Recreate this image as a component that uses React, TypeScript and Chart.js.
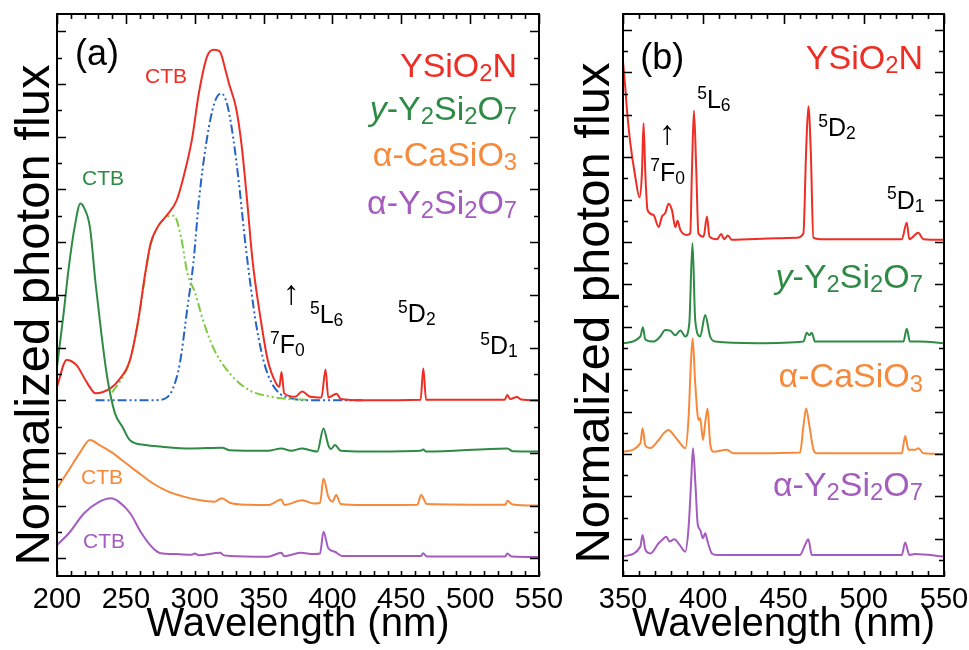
import { useEffect, useRef } from "react";
import { Chart, registerables } from "chart.js";

Chart.register(...registerables);

const FONT = '"Liberation Sans", Arial, Helvetica, sans-serif';

const RED = "#ee2d24";
const GREEN = "#2e8b45";
const ORANGE = "#f7893b";
const PURPLE = "#a45cbf";
const BLUE = "#2563c4";
const LIME = "#7bcb3c";

// ---------- Panel (a): excitation spectra, 200–550 nm (curves offset vertically) ----------
const aRedX = [200, 207, 214, 222, 228, 239, 245, 253, 259, 264, 268, 273, 281, 287, 292, 298, 303, 309, 314, 318, 323, 325, 330, 334, 338, 342, 348, 353, 359, 361.5, 363, 365, 373, 378, 384, 392, 395, 397, 403, 406, 423, 464, 466, 468, 525, 527, 529, 534, 537, 550];
const aRedY = [6.51, 7.53, 7.34, 6.65, 6.26, 6.46, 6.77, 7.53, 9.04, 10.8, 11.96, 12.57, 13.1, 13.6, 14.5, 15.9, 17.65, 19.05, 19.3, 19.25, 18.4, 18.0, 17.1, 15.7, 13.6, 11.3, 9.04, 7.53, 6.65, 6.51, 7.07, 6.26, 6.13, 6.33, 6.13, 6.1, 7.17, 6.1, 6.25, 6.05, 6.0, 6.02, 7.2, 6.02, 6.02, 6.2, 6.05, 6.12, 6.03, 6.0];

// Gaussian components fitted to the YSiO2N band
const aFitBlueX = [228, 250, 270, 278, 283.7, 289.2, 294.8, 299, 303.1, 308.7, 314.3, 319.3, 324, 328.2, 332.4, 336.5, 340.7, 344.9, 350.5, 356, 361.6, 370, 381, 422];
const aFitBlueY = [6.0, 6.0, 6.0, 6.05, 6.39, 7.4, 9.55, 11.2, 13.6, 15.87, 17.28, 17.65, 17.14, 15.87, 14.1, 12.08, 10.3, 8.79, 7.4, 6.64, 6.26, 6.07, 6.0, 6.0];
const aFitLimeX = [240, 248, 253, 259, 264, 268, 273, 278, 285, 290, 294.8, 300.4, 306, 314.3, 325.4, 339.3, 356, 370, 381];
const aFitLimeY = [6.3, 6.9, 7.5, 9.0, 10.7, 11.9, 12.55, 12.9, 13.0, 12.2, 10.8, 10.06, 9.04, 7.9, 7.02, 6.39, 6.13, 6.04, 6.02];

const aGreenX = [200, 204.5, 208.6, 212.8, 217, 219.7, 223.9, 228, 232.2, 236.4, 242, 247.5, 253, 264, 275, 297.6, 320, 325, 353, 363, 370, 378, 384, 389, 393.5, 397, 399, 401.8, 406, 423, 464, 466, 468, 527, 531, 550];
const aGreenY = [7.27, 9.16, 11.06, 12.57, 13.47, 13.3, 12.57, 10.44, 8.54, 6.89, 5.52, 4.99, 4.48, 4.3, 4.24, 4.17, 4.2, 4.1, 4.08, 4.17, 4.08, 4.17, 4.1, 4.05, 4.93, 4.3, 4.15, 4.3, 4.08, 4.05, 4.08, 4.13, 4.05, 4.17, 4.06, 4.05];

const aOrangeX = [200, 208.6, 217, 223.9, 230.9, 239.2, 250.3, 261.4, 269.8, 280.9, 292, 303.1, 314.3, 319.8, 325.4, 339.3, 353.2, 362.9, 365, 378.2, 386.5, 391, 393.5, 397, 400, 402.7, 406, 422.7, 461.6, 464.4, 468.6, 525.5, 527, 531, 550];
const aOrangeY = [2.66, 3.35, 4.04, 4.49, 4.3, 4.04, 3.6, 3.16, 2.84, 2.53, 2.34, 2.21, 2.15, 2.28, 2.11, 2.03, 2.02, 2.23, 2.03, 2.2, 2.08, 2.1, 3.03, 2.34, 2.15, 2.4, 2.06, 2.02, 2.03, 2.4, 2.06, 2.03, 2.18, 2.04, 2.0];

const aPurpleX = [200, 208.6, 219.7, 230.9, 239.2, 244.8, 253.1, 261.4, 269.8, 275.3, 286.5, 297.6, 300, 303, 318.4, 321, 325.4, 353, 362.9, 365, 376.8, 386.5, 391, 393.5, 397, 401.8, 407, 464.4, 465.8, 468.6, 525.5, 527, 530, 550];
const aPurpleY = [0.5, 0.95, 1.71, 2.15, 2.28, 2.15, 1.71, 0.95, 0.38, 0.19, 0.16, 0.13, 0.18, 0.12, 0.21, 0.12, 0.09, 0.06, 0.21, 0.08, 0.21, 0.16, 0.18, 1.01, 0.38, 0.25, 0.09, 0.09, 0.19, 0.07, 0.07, 0.18, 0.07, 0.05];

// ---------- Panel (b): 4f–4f lines, 350–550 nm ----------
const bRedX = [350, 351.4, 352.5, 354.5, 357.6, 360.3, 361.8, 362.8, 363.9, 365.3, 369, 372.2, 374.3, 376.3, 378.4, 380.5, 382.6, 384, 385.7, 389.8, 391.9, 393, 394.2, 395.6, 397, 400.2, 402.3, 403.9, 408.5, 411.2, 413, 415.4, 417.8, 445.9, 458.3, 462.4, 464.1, 465.5, 467, 468.6, 472.8, 523.7, 526.8, 528.4, 534, 537.1, 550];
const bRedY = [23.5, 22.3, 21.2, 19.7, 18.1, 17.1, 18.25, 20.6, 18.25, 16.5, 16.27, 15.7, 16.2, 16.36, 16.8, 16.5, 15.7, 16.0, 15.57, 15.33, 15.4, 18.5, 21.2, 18.5, 15.4, 15.25, 16.2, 15.25, 15.13, 15.37, 15.13, 15.3, 15.1, 15.17, 15.2, 15.4, 19.3, 21.4, 19.3, 15.2, 15.13, 15.13, 15.9, 15.13, 15.43, 15.13, 15.1];

const bGreenX = [350, 360.8, 362.4, 363.9, 369, 373.2, 376.3, 379.4, 382.6, 385.7, 388.8, 391.3, 393.3, 395, 398.1, 401.2, 404.3, 407.4, 433.4, 462.4, 464.5, 466.2, 467.6, 469.7, 524.7, 526.8, 528.8, 535, 550];
const bGreenY = [10.22, 10.54, 10.98, 10.4, 10.3, 10.54, 10.85, 10.82, 10.6, 10.82, 10.54, 11.16, 14.95, 11.3, 10.54, 11.56, 10.54, 10.3, 10.22, 10.3, 10.72, 10.6, 10.72, 10.3, 10.3, 10.9, 10.3, 10.3, 10.22];

const bOrangeX = [350, 360.8, 362.2, 363.9, 367, 372.2, 375.3, 378.4, 381.5, 385.7, 388.8, 390.9, 392.2, 393.4, 395, 397.1, 398.1, 399.8, 401.2, 402.7, 404.3, 406.4, 414.7, 418.8, 460.3, 462.4, 464.1, 466.2, 468.7, 470.8, 523.7, 525.8, 527.9, 532, 534.1, 537.1, 550];
const bOrangeY = [5.11, 5.5, 6.21, 5.4, 5.28, 5.66, 5.97, 6.13, 5.9, 5.5, 5.27, 6.76, 9.12, 10.46, 8.33, 6.6, 6.7, 5.66, 6.45, 7.15, 5.5, 5.11, 5.2, 5.03, 5.07, 6.29, 7.15, 6.29, 5.2, 5.03, 5.03, 5.85, 5.2, 5.2, 5.27, 5.03, 5.0];

const bPurpleX = [350, 360.8, 362.2, 363.9, 367, 372.2, 374.3, 377, 379, 382, 385.3, 388.8, 390.9, 392.4, 393.6, 395.2, 396.5, 398.1, 399.8, 401.2, 402.7, 405.4, 408.5, 460.3, 463.4, 465.5, 467.6, 523.7, 525.8, 528.4, 532, 550];
const bPurpleY = [0.16, 0.63, 1.18, 0.5, 0.31, 0.79, 0.94, 1.1, 0.87, 0.98, 0.71, 0.39, 1.57, 3.62, 5.27, 3.46, 1.73, 1.42, 1.02, 1.26, 0.87, 0.31, 0.24, 0.24, 0.71, 0.98, 0.24, 0.24, 0.82, 0.24, 0.28, 0.16];

// ---------- Text ----------
type Part = { t: string; s?: "sub" | "sup"; i?: boolean };
type Label = { x: number; y: number; parts: Part[]; color: string; size: number; align: "left" | "right" | "center" };

const P = (t: string): Part => ({ t });
const SUB = (t: string): Part => ({ t, s: "sub" });
const SUP = (t: string): Part => ({ t, s: "sup" });

const NAME_YSION: Part[] = [P("YSiO"), SUB("2"), P("N")];
const NAME_Y_YSO: Part[] = [{ t: "y", i: true }, P("-Y"), SUB("2"), P("Si"), SUB("2"), P("O"), SUB("7")];
const NAME_CASIO: Part[] = [P("\u03b1-CaSiO"), SUB("3")];
const NAME_A_YSO: Part[] = [P("\u03b1-Y"), SUB("2"), P("Si"), SUB("2"), P("O"), SUB("7")];
const F0: Part[] = [SUP("7"), P("F"), SUB("0")];
const L6: Part[] = [SUP("5"), P("L"), SUB("6")];
const D2: Part[] = [SUP("5"), P("D"), SUB("2")];
const D1: Part[] = [SUP("5"), P("D"), SUB("1")];

const X_TITLE = "Wavelength (nm)";
const Y_TITLE = "Normalized photon flux";

const aLabels: Label[] = [
  { x: 213.1, y: 19.21, parts: [P("(a)")], color: "#000", size: 36, align: "left" },
  { x: 534.1, y: 18.72, parts: NAME_YSION, color: RED, size: 34, align: "right" },
  { x: 534.1, y: 17.09, parts: NAME_Y_YSO, color: GREEN, size: 34, align: "right" },
  { x: 534.1, y: 15.36, parts: NAME_CASIO, color: ORANGE, size: 34, align: "right" },
  { x: 534.1, y: 13.52, parts: NAME_A_YSO, color: PURPLE, size: 34, align: "right" },
  { x: 279.2, y: 18.34, parts: [P("CTB")], color: RED, size: 21, align: "center" },
  { x: 233.4, y: 14.47, parts: [P("CTB")], color: GREEN, size: 21, align: "center" },
  { x: 232.7, y: 3.09, parts: [P("CTB")], color: ORANGE, size: 21, align: "center" },
  { x: 234.1, y: 0.69, parts: [P("CTB")], color: PURPLE, size: 21, align: "center" },
  { x: 370.1, y: 10.1, parts: [P("\u2191")], color: "#000", size: 34, align: "center" },
  { x: 354.7, y: 8.12, parts: F0, color: "#000", size: 25, align: "left" },
  { x: 383.7, y: 9.26, parts: L6, color: "#000", size: 25, align: "left" },
  { x: 447.7, y: 9.29, parts: D2, color: "#000", size: 25, align: "left" },
  { x: 507.3, y: 8.08, parts: D1, color: "#000", size: 25, align: "left" },
];

const bLabels: Label[] = [
  { x: 360.8, y: 23.78, parts: [P("(b)")], color: "#000", size: 36, align: "left" },
  { x: 536.9, y: 23.73, parts: NAME_YSION, color: RED, size: 34, align: "right" },
  { x: 536.9, y: 13.42, parts: NAME_Y_YSO, color: GREEN, size: 34, align: "right" },
  { x: 536.9, y: 8.71, parts: NAME_CASIO, color: ORANGE, size: 34, align: "right" },
  { x: 536.9, y: 3.58, parts: NAME_A_YSO, color: PURPLE, size: 34, align: "right" },
  { x: 377.6, y: 20.2, parts: [P("\u2191")], color: "#000", size: 34, align: "center" },
  { x: 367, y: 18.3, parts: F0, color: "#000", size: 25, align: "left" },
  { x: 396.2, y: 21.73, parts: L6, color: "#000", size: 25, align: "left" },
  { x: 471.6, y: 20.41, parts: D2, color: "#000", size: 25, align: "left" },
  { x: 514.5, y: 16.98, parts: D1, color: "#000", size: 25, align: "left" },
];

function drawRich(ctx: CanvasRenderingContext2D, x: number, yMid: number, l: Label) {
  const segs = l.parts.map((p) => {
    const sz = p.s ? l.size * 0.7 : l.size;
    const font = `${p.i ? "italic " : ""}${sz}px ${FONT}`;
    ctx.font = font;
    const dy = p.s === "sub" ? l.size * 0.12 : p.s === "sup" ? -l.size * 0.38 : 0;
    return { t: p.t, font, dy, w: ctx.measureText(p.t).width };
  });
  const total = segs.reduce((a, s) => a + s.w, 0);
  let cx = l.align === "right" ? x - total : l.align === "center" ? x - total / 2 : x;
  const base = yMid + l.size * 0.358;
  ctx.fillStyle = l.color;
  ctx.textAlign = "left";
  ctx.textBaseline = "alphabetic";
  for (const s of segs) {
    ctx.font = s.font;
    ctx.fillText(s.t, cx, base + s.dy);
    cx += s.w;
  }
}

type Titles = { xBase: number; xSize: number; yBase: number; yMid: number; ySize: number };
type FrameCfg = {
  xMin: number;
  xMax: number;
  xMinor: number;
  xMajor: number;
  yTicks: number[];
  yLong: (v: number) => boolean;
  labels: Label[];
  titles: Titles;
};

// Closed frame with inward ticks on all four sides, annotations and axis titles
function framePlugin(cfg: FrameCfg) {
  return {
    id: "frameAndText",
    afterDatasetsDraw(chart: any) {
      const { ctx, chartArea: a, scales } = chart;
      const xs = scales.x;
      const ys = scales.y;
      ctx.save();
      ctx.strokeStyle = "#000";
      ctx.lineWidth = 1.6;
      ctx.beginPath();
      for (let v = cfg.xMin; v <= cfg.xMax + 1e-6; v += cfg.xMinor) {
        const px = Math.round(xs.getPixelForValue(v)) + 0.5;
        const major = Math.abs(v % cfg.xMajor) < 1e-6;
        ctx.moveTo(px, a.bottom);
        ctx.lineTo(px, a.bottom - 5);
        ctx.moveTo(px, a.top);
        ctx.lineTo(px, a.top + (major ? 10 : 5));
      }
      for (const v of cfg.yTicks) {
        const py = Math.round(ys.getPixelForValue(v)) + 0.5;
        const len = cfg.yLong(v) ? 9 : 5;
        ctx.moveTo(a.left, py);
        ctx.lineTo(a.left + len, py);
        ctx.moveTo(a.right, py);
        ctx.lineTo(a.right - len, py);
      }
      ctx.stroke();
      ctx.lineWidth = 2;
      ctx.strokeRect(a.left, a.top, a.right - a.left, a.bottom - a.top);
      for (const l of cfg.labels) {
        drawRich(ctx, xs.getPixelForValue(l.x), ys.getPixelForValue(l.y), l);
      }
      const t = cfg.titles;
      ctx.fillStyle = "#000";
      ctx.textAlign = "center";
      ctx.textBaseline = "alphabetic";
      ctx.font = `${t.xSize}px ${FONT}`;
      ctx.fillText(X_TITLE, (a.left + a.right) / 2, t.xBase);
      ctx.translate(t.yBase, t.yMid);
      ctx.rotate(-Math.PI / 2);
      ctx.font = `${t.ySize}px ${FONT}`;
      ctx.fillText(Y_TITLE, 0, 0);
      ctx.restore();
    },
  };
}

const pts = (xs: number[], ys: number[]) => xs.map((x, i) => ({ x, y: ys[i] }));

function line(label: string, xs: number[], ys: number[], color: string, dash?: number[]) {
  return {
    label,
    data: pts(xs, ys),
    borderColor: color,
    backgroundColor: color,
    borderWidth: 2,
    borderDash: dash || [],
    pointRadius: 0,
    fill: false,
    cubicInterpolationMode: "monotone" as const,
  };
}

const DASH_DOT_DOT = [9, 3, 2, 3, 2, 3];

type PanelSpec = {
  width: number;
  left: number;
  axisWidth: number;
  rightPad: number;
  xMin: number;
  xMax: number;
  yMin: number;
  yMax: number;
  yTicks: number[];
  yLong: (v: number) => boolean;
  datasets: any[];
  labels: Label[];
  titles: Titles;
};

function range(a: number, b: number) {
  const r: number[] = [];
  for (let i = a; i <= b; i++) r.push(i);
  return r;
}

const panelA: PanelSpec = {
  width: 620,
  left: 0,
  axisWidth: 57,
  rightPad: 81,
  xMin: 200,
  xMax: 550,
  yMin: -0.672,
  yMax: 20.66,
  yTicks: range(0, 20),
  yLong: (v) => v % 2 === 0,
  datasets: [
    line("α-Y2Si2O7", aPurpleX, aPurpleY, PURPLE),
    line("α-CaSiO3", aOrangeX, aOrangeY, ORANGE),
    line("y-Y2Si2O7", aGreenX, aGreenY, GREEN),
    line("YSiO2N", aRedX, aRedY, RED),
    line("fit 1", aFitLimeX, aFitLimeY, LIME, DASH_DOT_DOT),
    line("fit 2", aFitBlueX, aFitBlueY, BLUE, DASH_DOT_DOT),
  ],
  labels: aLabels,
  titles: { xBase: 636, xSize: 40, yBase: 49, yMid: 315, ySize: 49 },
};

const panelB: PanelSpec = {
  width: 470,
  left: 555,
  axisWidth: 68,
  rightPad: 81,
  xMin: 350,
  xMax: 550,
  yMin: -0.755,
  yMax: 25.75,
  yTicks: range(0, 25),
  yLong: (v) => v % 2 === 1,
  datasets: [
    line("α-Y2Si2O7", bPurpleX, bPurpleY, PURPLE),
    line("α-CaSiO3", bOrangeX, bOrangeY, ORANGE),
    line("y-Y2Si2O7", bGreenX, bGreenY, GREEN),
    line("YSiO2N", bRedX, bRedY, RED),
  ],
  labels: bLabels,
  titles: { xBase: 636, xSize: 40, yBase: 54, yMid: 313, ySize: 49 },
};

function Panel({ spec }: { spec: PanelSpec }) {
  const ref = useRef<HTMLCanvasElement>(null);
  useEffect(() => {
    const chart = new Chart(ref.current!, {
      type: "line",
      data: { datasets: spec.datasets },
      options: {
        animation: false,
        responsive: false,
        devicePixelRatio: 1,
        layout: { padding: { top: 14, right: spec.rightPad, left: 0, bottom: 0 } },
        plugins: { legend: { display: false }, tooltip: { enabled: false } },
        scales: {
          x: {
            type: "linear",
            min: spec.xMin,
            max: spec.xMax,
            grid: { display: false, drawTicks: false },
            border: { display: false },
            ticks: { stepSize: 50, color: "#000", font: { family: FONT, size: 29 }, padding: 7, maxRotation: 0, autoSkip: false },
            title: { display: false },
            afterFit: (s: any) => {
              s.height = 74;
            },
          },
          y: {
            type: "linear",
            min: spec.yMin,
            max: spec.yMax,
            grid: { display: false, drawTicks: false },
            border: { display: false },
            ticks: { display: false },
            title: { display: false },
            afterFit: (s: any) => {
              s.width = spec.axisWidth;
            },
          },
        },
      },
      plugins: [
        framePlugin({
          xMin: spec.xMin,
          xMax: spec.xMax,
          xMinor: 10,
          xMajor: 50,
          yTicks: spec.yTicks,
          yLong: spec.yLong,
          labels: spec.labels,
          titles: spec.titles,
        }),
      ],
    } as any);
    return () => chart.destroy();
  }, [spec]);
  return (
    <canvas
      ref={ref}
      width={spec.width}
      height={650}
      style={{ position: "absolute", left: spec.left, top: 0, width: spec.width, height: 650 }}
    />
  );
}

export default function App() {
  return (
    <div style={{ position: "absolute", left: 0, top: 0, width: 969, height: 650, background: "#fff", overflow: "hidden" }}>
      <Panel spec={panelA} />
      <Panel spec={panelB} />
    </div>
  );
}
